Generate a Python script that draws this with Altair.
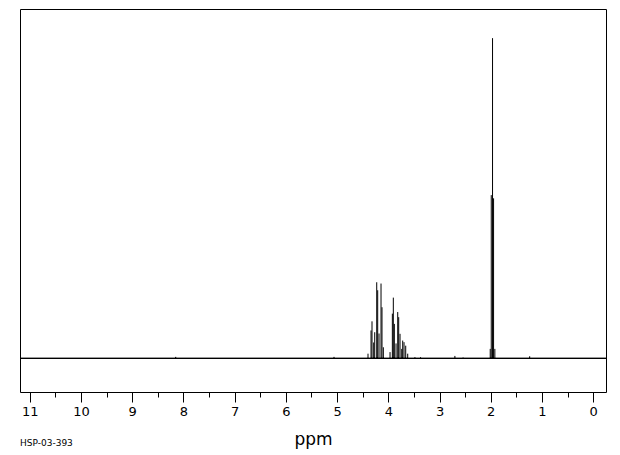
import altair as alt
import pandas as pd

# Peak positions (ppm) and relative intensities
peak_ppm = [8.15, 5.06,
            4.396, 4.337, 4.318, 4.285, 4.265, 4.226, 4.207, 4.181, 4.142, 4.123, 4.097,
            3.966, 3.921, 3.902, 3.882, 3.849, 3.816, 3.797, 3.771, 3.738, 3.719, 3.693, 3.660, 3.621,
            3.48, 3.37, 2.70, 2.54,
            2.01, 1.99, 1.965, 1.945, 1.92,
            1.24]
peak_int = [0.5, 0.5,
            1.5, 8.75, 11.6, 5.0, 8.2, 23.8, 21.3, 7.8, 23.4, 16.0, 3.5,
            2.0, 14.0, 19.0, 10.8, 4.7, 14.5, 12.9, 7.7, 3.0, 5.6, 5.1, 4.0, 1.5,
            0.4, 0.4, 0.8, 0.3,
            3.0, 51.0, 100.0, 50.0, 3.0,
            0.7]

tick_values = [i * 0.5 for i in range(0, 23)]
x_domain = [-0.25, 11.19]
y_domain = [-10.46, 109.1]

df = pd.DataFrame({"ppm": peak_ppm, "intensity": peak_int, "zero": [0.0] * len(peak_ppm)})

W, H = 586, 383

x_scale = alt.Scale(domain=x_domain, reverse=True, nice=False, zero=False)
y_scale = alt.Scale(domain=y_domain, nice=False, zero=False)

x_axis = alt.Axis(
    values=tick_values,
    labelExpr="datum.value % 1 === 0 ? datum.value : ''",
    tickSize={"condition": {"test": "datum.value % 1 === 0", "value": 10}, "value": 5},
    tickColor="black",
    tickWidth=1,
    domain=False,
    grid=False,
    labelFont="DejaVu Sans",
    labelFontSize=13,
    labelColor="black",
    labelPadding=3,
    labelFlush=False,
    title="ppm",
    titleFont="DejaVu Sans",
    titleFontSize=17,
    titleFontWeight="normal",
    titleColor="black",
    titlePadding=13,
)

peaks = alt.Chart(df).mark_rule(color="black", strokeWidth=1).encode(
    x=alt.X("ppm:Q", scale=x_scale, axis=x_axis),
    y=alt.Y("zero:Q", scale=y_scale, axis=None),
    y2="intensity:Q",
)

baseline = alt.Chart(df).mark_rule(color="black", strokeWidth=1).encode(
    x=alt.value(0),
    x2=alt.value(W),
    y=alt.datum(0, scale=y_scale),
)

label = alt.Chart(pd.DataFrame({"t": ["HSP-03-393"]})).mark_text(
    align="left", baseline="middle", font="DejaVu Sans", fontSize=9, color="black"
).encode(
    text="t:N",
    x=alt.value(0),
    y=alt.value(H + 51),
)

chart = alt.layer(peaks, baseline, label).properties(
    width=W,
    height=H,
    background="white",
    autosize=alt.AutoSizeParams(type="none"),
    padding={"left": 12, "top": 1, "right": 6, "bottom": 62},
).configure_view(
    stroke="black", strokeWidth=1
)

chart.save("out.html", embed_options={"renderer": "svg", "actions": False})
